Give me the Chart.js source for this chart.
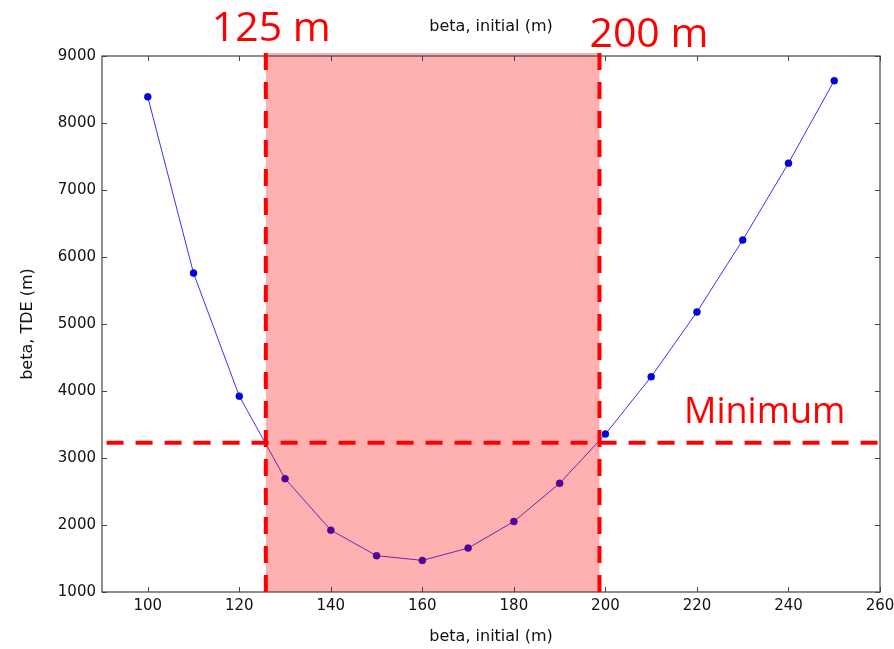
<!DOCTYPE html>
<html>
<head>
<meta charset="utf-8">
<script src="https://cdn.jsdelivr.net/npm/chart.js@4/dist/chart.umd.min.js"></script>
<style>
html,body{margin:0;padding:0;background:#fff;}
#wrap{width:894px;height:649px;position:relative;}
</style>
</head>
<body>
<div id="wrap"><canvas id="c" width="894" height="649"></canvas></div>
<script>
// ---- data ----
const betaInitial = [100,110,120,130,140,150,160,170,180,190,200,210,220,230,240,250];
const betaTDE = [8390,5760,3923,2692,1923,1542,1472,1655,2052,2622,3357,4212,5180,6253,7401,8632];
const xTicks = [100,120,140,160,180,200,220,240,260];
const yTicks = [1000,2000,3000,4000,5000,6000,7000,8000,9000];
const windowLow = 125.8;
const windowHigh = 198.7;
const minimumLevel = 3228;
const labelLow = "125 m";
const labelHigh = "200 m";
const labelMin = "Minimum";
const axisTitleX = "beta, initial (m)";
const axisTitleY = "beta, TDE (m)";

const FONT = "'DejaVu Sans', sans-serif";
const ANNOT = "'Open Sans', sans-serif";

const frameAndAnnotations = {
  id: 'frameAndAnnotations',
  afterDatasetsDraw(chart) {
    const {ctx, chartArea: a, scales: {x, y}} = chart;
    ctx.save();
    // shaded window
    const xl = x.getPixelForValue(windowLow), xr = x.getPixelForValue(windowHigh);
    ctx.fillStyle = 'rgba(255,0,0,0.31)';
    ctx.fillRect(xl, a.top - 3, xr - xl, a.bottom - a.top + 3);
    // frame
    ctx.strokeStyle = '#444';
    ctx.lineWidth = 1.2;
    ctx.strokeRect(a.left, a.top, a.right - a.left, a.bottom - a.top);
    // inward ticks
    ctx.beginPath();
    xTicks.forEach(v => {
      const px = Math.round(x.getPixelForValue(v)) + 0.5;
      ctx.moveTo(px, a.bottom); ctx.lineTo(px, a.bottom - 5);
      ctx.moveTo(px, a.top); ctx.lineTo(px, a.top + 5);
    });
    yTicks.forEach(v => {
      const py = Math.round(y.getPixelForValue(v)) + 0.5;
      ctx.moveTo(a.left, py); ctx.lineTo(a.left + 5, py);
      ctx.moveTo(a.right, py); ctx.lineTo(a.right - 5, py);
    });
    ctx.lineWidth = 1;
    ctx.stroke();
    // top title, centred over the plot area
    ctx.fillStyle = '#111';
    ctx.font = '16px ' + FONT;
    ctx.textAlign = 'center';
    ctx.textBaseline = 'middle';
    ctx.fillText(axisTitleX, (a.left + a.right) / 2, 27);
    // dashed red lines
    ctx.strokeStyle = '#ff0000';
    ctx.lineWidth = 4;
    ctx.setLineDash([17, 12]);
    const yMin = y.getPixelForValue(minimumLevel);
    ctx.beginPath();
    ctx.moveTo(x.getPixelForValue(91), yMin);
    ctx.lineTo(x.getPixelForValue(260), yMin);
    ctx.stroke();
    [windowLow, windowHigh].forEach(v => {
      const px = x.getPixelForValue(v);
      ctx.beginPath();
      ctx.moveTo(px, y.getPixelForValue(1000));
      ctx.lineTo(px, a.top - 3);
      ctx.stroke();
    });
    ctx.setLineDash([]);
    // labels
    ctx.fillStyle = '#ff0000';
    ctx.textBaseline = 'alphabetic';
    ctx.textAlign = 'left';
    ctx.font = '41px ' + ANNOT;
    ctx.fillText(labelLow, xl - 54, 41);
    ctx.fillText(labelHigh, xr - 10, 47);
    ctx.font = '36px ' + ANNOT;
    ctx.fillText(labelMin, 684, 423);
    ctx.restore();
  }
};

new Chart(document.getElementById('c'), {
  type: 'line',
  data: {
    datasets: [{
      data: betaInitial.map((v, i) => ({x: v, y: betaTDE[i]})),
      borderColor: '#3333ff',
      borderWidth: 1,
      backgroundColor: '#0000ee',
      pointBackgroundColor: '#0000ee',
      pointBorderColor: '#000088',
      pointBorderWidth: 0.5,
      pointRadius: 3.5,
      tension: 0,
      fill: false
    }]
  },
  options: {
    responsive: false,
    animation: false,
    layout: {padding: {left: 0, right: 14, top: 56, bottom: 0}},
    plugins: {
      legend: {display: false},
      tooltip: {enabled: false},
      title: {display: false}
    },
    scales: {
      x: {
        type: 'linear',
        min: 90, max: 260,
        afterBuildTicks: s => { s.ticks = xTicks.map(v => ({value: v})); },
        afterFit: s => { s.height = 57; s.paddingRight = 0; s.paddingLeft = 0; },
        grid: {display: false, drawTicks: false},
        border: {display: false},
        ticks: {color: '#111', font: {family: FONT, size: 15}, padding: 5, maxRotation: 0, autoSkip: false,
                callback: v => String(v)},
        title: {display: true, text: axisTitleX, color: '#111', font: {family: FONT, size: 16}, padding: {top: 0, bottom: 3}}
      },
      y: {
        min: 1000, max: 9000,
        afterBuildTicks: s => { s.ticks = yTicks.map(v => ({value: v})); },
        afterFit: s => { s.width = 102; s.paddingTop = 0; s.paddingBottom = 0; },
        grid: {display: false, drawTicks: false},
        border: {display: false},
        ticks: {color: '#111', font: {family: FONT, size: 15}, padding: 6, callback: v => String(v)},
        title: {display: true, text: axisTitleY, color: '#111', font: {family: FONT, size: 16}, padding: {top: 18, bottom: 0}}
      }
    }
  },
  plugins: [frameAndAnnotations]
});
</script>
</body>
</html>
